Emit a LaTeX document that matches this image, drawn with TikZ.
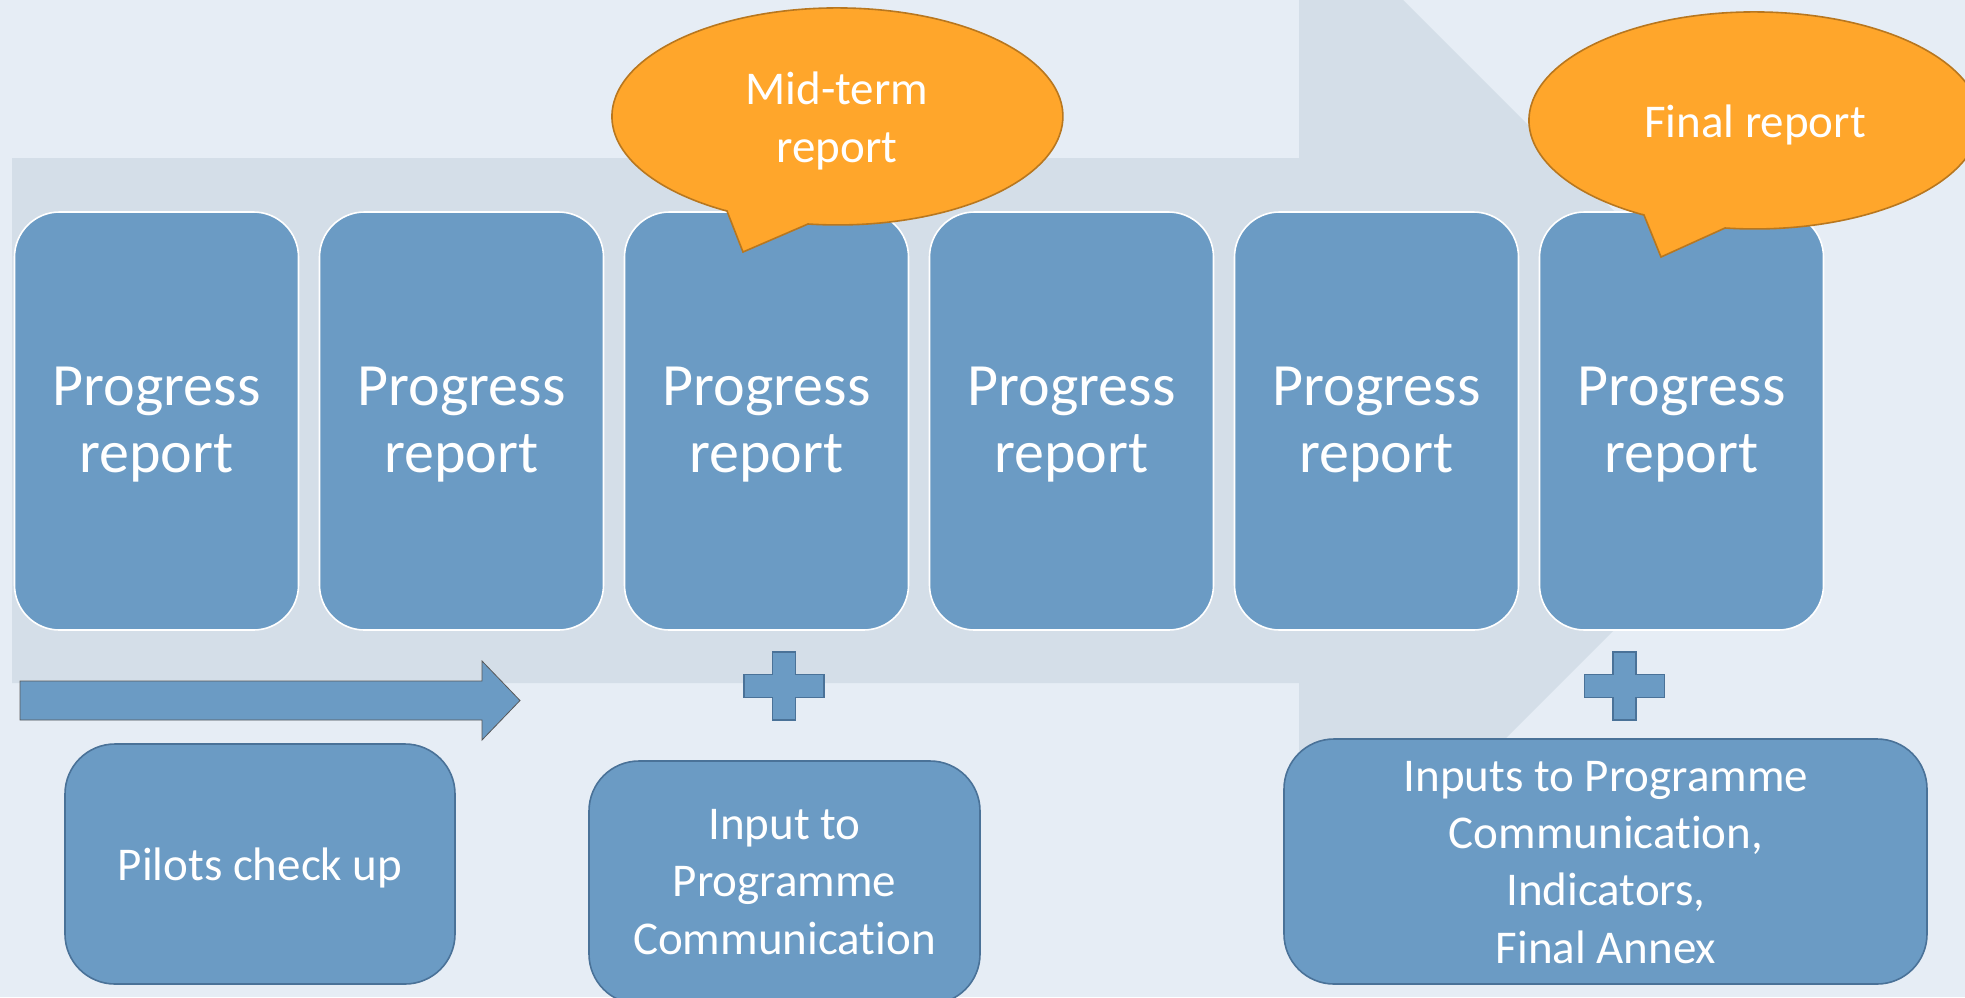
\documentclass[tikz,border=0pt]{standalone}
\usepackage{fontspec}
\setmainfont{Carlito}[Ligatures={NoCommon,NoRare,NoContextual}]
\definecolor{bgcol}{HTML}{E6EDF5}
\definecolor{bigarrowcol}{HTML}{D4DEE8}
\definecolor{boxfill}{HTML}{6B9BC4}
\definecolor{boxline}{HTML}{4A7298}
\definecolor{orangefill}{HTML}{FFA62B}
\definecolor{orangeline}{HTML}{B8771F}
\begin{document}
\begin{tikzpicture}[x=1pt,y=-1pt,
  pbox/.style={draw=white, line width=1.6pt, fill=boxfill, rounded corners=45pt,
    minimum width=284pt, minimum height=418pt, inner sep=0pt},
  bbox/.style={draw=boxline, line width=1.6pt, fill=boxfill, rounded corners=50pt, inner sep=0pt},
  bigtxt/.style={text=white, font=\fontsize{60}{67}\selectfont, anchor=base, inner sep=0pt},
  midtxt/.style={text=white, font=\fontsize{47}{57}\selectfont, anchor=base, inner sep=0pt},
  calloutshape/.style={fill=orangefill, draw=orangeline, line width=1.6pt, line join=miter},
  plusshape/.style={fill=boxfill, draw=boxline, line width=1.6pt},
  smallarrow/.style={fill=boxfill, draw=black!65, line width=0.8pt}
]
\useasboundingbox (0,0) rectangle (1965,997);
\clip (0,0) rectangle (1965,997);
\fill[bgcol] (0,0) rectangle (1965,997);
% big background arrow
\fill[bigarrowcol] (12,158) -- (1299,158) -- (1299,-104) -- (1823.5,420.5) -- (1299,945) -- (1299,683) -- (12,683) -- cycle;

% progress boxes
\foreach \i in {1,...,6}{
  \node[pbox] (p\i) at ({156.5+305*(\i-1)},421) {};
  \node[bigtxt] (p\i a) at ({156.5+305*(\i-1)},405) {Progress};
  \node[bigtxt] (p\i b) at ({156.5+305*(\i-1)},472) {report};
}

% callouts
\path[calloutshape] (727,211) -- (743,252) -- (808,224)
  arc[start angle=97.5, end angle=-240.8, x radius=225.5, y radius=108.5] -- cycle;
\node[midtxt] (mid1) at (837,104) {Mid-term};
\node[midtxt] (mid2) at (837,162) {report};

\path[calloutshape] (1644,215) -- (1661,257) -- (1725,228)
  arc[start angle=97.5, end angle=-240.8, x radius=225.5, y radius=108.5] -- cycle;
\node[midtxt] (fin) at (1755,137) {Final report};

% small arrow
\path[smallarrow] (20,681) -- (482,681) -- (482,661) -- (520,700.5) -- (482,740) -- (482,720) -- (20,720) -- cycle;

% plus signs
\path[plusshape] (772.5,652) -- (795.5,652) -- (795.5,674.5) -- (824,674.5) -- (824,697.5) -- (795.5,697.5)
  -- (795.5,720) -- (772.5,720) -- (772.5,697.5) -- (744,697.5) -- (744,674.5) -- (772.5,674.5) -- cycle;
\path[plusshape] (1613,652) -- (1636,652) -- (1636,674.5) -- (1664.5,674.5) -- (1664.5,697.5) -- (1636,697.5)
  -- (1636,720) -- (1613,720) -- (1613,697.5) -- (1584.5,697.5) -- (1584.5,674.5) -- (1613,674.5) -- cycle;

% bottom boxes
\node[bbox, minimum width=390pt, minimum height=240pt] (pilots) at (260,864) {};
\node[midtxt] (pilotst) at (260,880) {Pilots check up};

\node[bbox, minimum width=391pt, minimum height=243pt] (input) at (784.5,882.5) {};
\node[midtxt] (in1) at (784.5,839) {Input to};
\node[midtxt] (in2) at (784.5,896) {Programme};
\node[midtxt] (in3) at (784.5,954) {Communication};

\node[bbox, minimum width=643pt, minimum height=245pt] (inputs) at (1605.5,861.5) {};
\node[midtxt] (is1) at (1606,791) {Inputs to Programme};
\node[midtxt] (is2) at (1606,848) {Communication,};
\node[midtxt] (is3) at (1606,905) {Indicators,};
\node[midtxt] (is4) at (1606,963) {Final Annex};
\end{tikzpicture}
\end{document}
